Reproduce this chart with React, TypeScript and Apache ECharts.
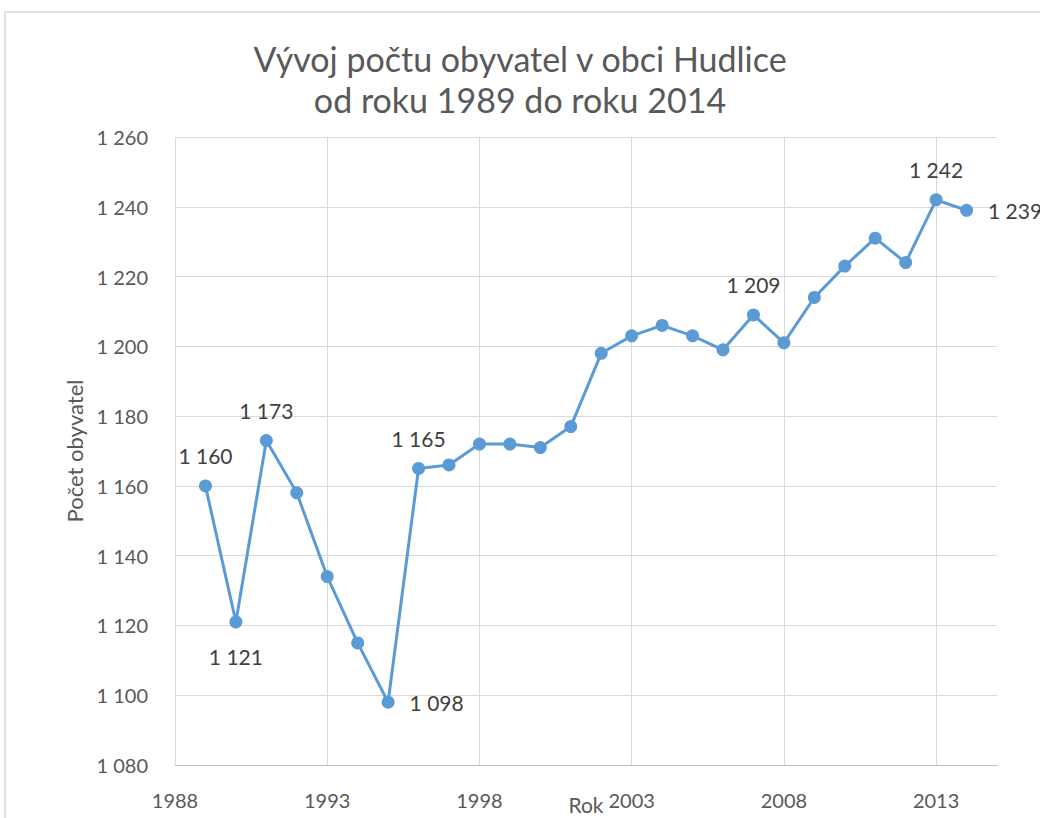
import React, { useEffect, useRef } from "react";
import * as echarts from "echarts";

const years = [1989, 1990, 1991, 1992, 1993, 1994, 1995, 1996, 1997, 1998, 1999, 2000, 2001, 2002, 2003, 2004, 2005, 2006, 2007, 2008, 2009, 2010, 2011, 2012, 2013, 2014];
const population = [1160, 1121, 1173, 1158, 1134, 1115, 1098, 1165, 1166, 1172, 1172, 1171, 1177, 1198, 1203, 1206, 1203, 1199, 1209, 1201, 1214, 1223, 1231, 1224, 1242, 1239];
const labeledYears = [1989, 1990, 1991, 1995, 1996, 2007, 2013, 2014];
const labelPositions = ["top", "bottom", "top", "right", "top", "top", "top", "right"];

const titleText = "Vývoj počtu obyvatel v obci Hudlice\nod roku 1989 do roku 2014";
const xName = "Rok";
const yName = "Počet obyvatel";

const fmt = (n: number) => String(n).replace(/\B(?=(\d{3})+(?!\d))/g, " ");

const FONT = "Lato";

export default function App() {
  const ref = useRef<HTMLDivElement>(null);
  useEffect(() => {
    document.body.style.margin = "0";
    const chart = echarts.init(ref.current!, null, { renderer: "svg" });
    const data = years.map((y, i) => {
      const li = labeledYears.indexOf(y);
      const item: any = { value: [y, population[i]] };
      if (li >= 0) {
        const pos = labelPositions[li];
        item.label = {
          show: true,
          position: pos,
          distance: pos === "bottom" ? 18 : pos === "right" ? 15 : 13,
        };
      }
      return item;
    });
    chart.setOption({
      animation: false,
      backgroundColor: "#ffffff",
      textStyle: { fontFamily: FONT },
      title: {
        text: titleText,
        left: "center",
        top: 33,
        textStyle: {
          fontFamily: FONT,
          fontSize: 34,
          fontWeight: "normal",
          color: "#595959",
          lineHeight: 41,
        },
      },
      graphic: [
        {
          type: "rect",
          shape: { x: 5, y: 12, width: 1200, height: 1000 },
          style: { fill: "none", stroke: "#d9d9d9", lineWidth: 1.5 },
          silent: true,
          z: -1,
        },
      ],
      grid: { left: 175, right: 43, top: 137, bottom: 53, containLabel: false, outerBoundsMode: "none" },
      xAxis: {
        type: "value",
        min: 1988,
        max: 2015,
        interval: 5,
        name: xName,
        nameLocation: "middle",
        nameGap: 29,
        nameMoveOverlap: false,
        nameTextStyle: { fontFamily: FONT, fontSize: 21, color: "#595959" },
        axisLine: { show: true, lineStyle: { color: "#bfbfbf", width: 1 } },
        axisTick: { show: false },
        axisLabel: {
          showMaxLabel: false,
          margin: 25,
          fontFamily: FONT,
          fontSize: 20,
          color: "#595959",
          formatter: (v: number) => String(v),
        },
        splitLine: {
          show: true,
          lineStyle: {
            color: ["#d9d9d9", "#d9d9d9", "#d9d9d9", "#d9d9d9", "#d9d9d9", "#d9d9d9", "transparent"],
            width: 1,
          },
        },
      },
      yAxis: {
        type: "value",
        min: 1080,
        max: 1260,
        interval: 20,
        name: yName,
        nameLocation: "middle",
        nameGap: 90,
        nameMoveOverlap: false,
        nameTextStyle: { fontFamily: FONT, fontSize: 22, color: "#595959" },
        axisLine: { show: false },
        axisTick: { show: false },
        axisLabel: {
          margin: 27,
          fontFamily: FONT,
          fontSize: 20,
          color: "#595959",
          formatter: (v: number) => fmt(v),
        },
        splitLine: { show: true, lineStyle: { color: "#d9d9d9", width: 1 } },
      },
      series: [
        {
          type: "line",
          data,
          symbol: "circle",
          symbolSize: 13,
          showAllSymbol: true,
          itemStyle: { color: "#5b9bd5" },
          lineStyle: { color: "#5b9bd5", width: 3 },
          label: {
            show: false,
            fontFamily: FONT,
            fontSize: 21,
            color: "#404040",
            formatter: (p: any) => fmt(p.value[1]),
          },
        },
      ],
    });
    return () => chart.dispose();
  }, []);
  return <div ref={ref} style={{ width: 1040, height: 818 }} />;
}
